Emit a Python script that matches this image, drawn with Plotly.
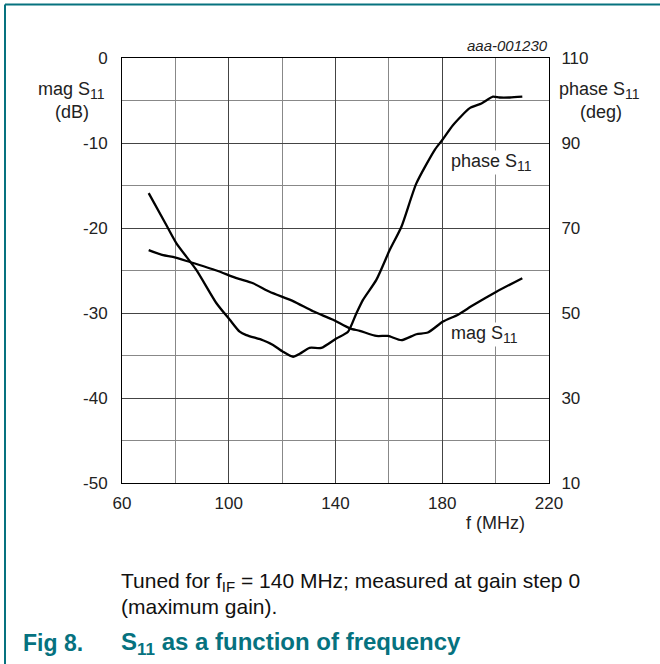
import plotly.graph_objects as go

# ---- data ----
mag_f = [70, 75.4, 79.1, 85.4, 95.4, 102.9, 109.1, 115.3, 124.1, 131.6, 139.1, 145.3,
         149.1, 155.3, 159.7, 164.7, 170.3, 174.6, 180.3, 185.9, 191.5, 200.3, 210]
mag_db = [-22.6, -23.2, -23.4, -24.0, -25.0, -25.9, -26.5, -27.5, -28.6, -29.8, -30.8, -31.8,
          -32.1, -32.7, -32.7, -33.2, -32.5, -32.3, -31.0, -30.2, -29.1, -27.5, -25.9]

phase_f = [70, 76.6, 80.4, 87.9, 95.4, 100.4, 104.1, 106.6, 112.8, 116.6, 120.3, 124.1,
           126.6, 130.3, 134.7, 140.3, 144.7, 147.8, 150.3, 155.3, 160.3, 164.7, 170.3,
           177.2, 180, 184, 190.3, 194.7, 199, 201.5, 205.3, 210]
phase_deg = [78.2, 70.7, 66.4, 60.1, 52.3, 48.4, 45.6, 44.8, 43.6, 42.5, 40.9, 39.7,
             40.4, 41.8, 41.8, 44.0, 45.6, 49.9, 53.1, 57.8, 64.8, 70.3, 80.5,
             88.4, 90.7, 94.2, 98.2, 99.3, 100.9, 100.7, 100.7, 100.9]

x_ticks = [60, 100, 140, 180, 220]
y_ticks = [0, -10, -20, -30, -40, -50]
y2_ticks = [110, 90, 70, 50, 30, 10]

TEAL = "#06727F"
FONT = "Liberation Sans, Arial, sans-serif"

# plot area in pixels
L, R, T, B = 122, 549, 58, 483
W, H = 660, 664


def px(x):
    return (x - L) / (R - L)


def py(y):
    return (B - y) / (B - T)


fig = go.Figure()
fig.add_trace(go.Scatter(x=mag_f, y=mag_db, mode="lines",
                         line=dict(color="black", width=2.3, shape="spline", smoothing=0.6),
                         yaxis="y", showlegend=False, hoverinfo="skip"))
fig.add_trace(go.Scatter(x=phase_f, y=phase_deg, mode="lines",
                         line=dict(color="black", width=2.3, shape="spline", smoothing=0.6),
                         yaxis="y2", showlegend=False, hoverinfo="skip"))

axis_common = dict(showline=True, linecolor="black", linewidth=1,
                   ticks="", zeroline=False,
                   tickfont=dict(family=FONT, size=17, color="#222"))

fig.update_layout(
    width=W, height=H,
    margin=dict(l=L, r=W - R, t=T, b=H - B, pad=0),
    paper_bgcolor="white", plot_bgcolor="white",
    font=dict(family=FONT, color="#222"),
    xaxis=dict(range=[60, 220], tickvals=x_ticks, ticktext=[str(v) for v in x_ticks],
               showgrid=True, gridcolor="#444", gridwidth=1,
               minor=dict(tickvals=[80, 120, 160, 200], showgrid=True, gridcolor="#888", gridwidth=1),
               ticklabelstandoff=5, mirror=True, **axis_common),
    yaxis=dict(range=[-50, 0], tickvals=y_ticks, ticktext=[str(v) for v in y_ticks],
               showgrid=True, gridcolor="#444", gridwidth=1,
               minor=dict(tickvals=[-5, -15, -25, -35, -45], showgrid=True, gridcolor="#888", gridwidth=1),
               ticklabelstandoff=10, mirror=False, **axis_common),
    yaxis2=dict(range=[10, 110], tickvals=y2_ticks, ticktext=[str(v) for v in y2_ticks],
                overlaying="y", side="right", showgrid=False,
                ticklabelstandoff=8, **axis_common),
)

SUB = '<sub><span style="font-size:14px">11</span></sub>'

ann = []
def lab(x, y, text, **kw):
    d = dict(x=px(x), y=py(y), text=text, showarrow=False, xref="paper", yref="paper",
             xanchor="center", yanchor="middle",
             font=dict(size=kw.pop("size", 18), family=FONT, color=kw.pop("color", "#222")))
    d.update(kw)
    ann.append(d)

lab(71, 90, "mag S" + SUB)
lab(72, 112, "(dB)")
lab(599, 90, "phase S" + SUB)
lab(601, 112, "(deg)")
lab(R + 1, 46, "<i>aaa-001230</i>", size=15, xanchor="right")
lab(495, 523, "f (MHz)")
lab(491, 162, "phase S" + SUB, bgcolor="white", borderpad=0)
lab(484, 334, "mag S" + SUB, bgcolor="white", borderpad=0)
lab(119, 582, 'Tuned for f<sub><span style="font-size:15px">IF</span></sub> = 140 MHz; measured at gain step 0',
    size=21, color="#111", xanchor="left")
lab(119, 606, "(maximum gain).", size=21, color="#111", xanchor="left")
lab(21, 643, "<b>Fig 8.</b>", size=23, color=TEAL, xanchor="left")
lab(119, 643, '<b>S<sub><span style="font-size:17px">11</span></sub> as a function of frequency</b>',
    size=24, color=TEAL, xanchor="left")
fig.update_layout(annotations=ann)

fig.add_shape(type="line", xref="paper", yref="paper",
              x0=px(5), y0=py(4.5), x1=px(662), y1=py(4.5),
              line=dict(color=TEAL, width=2))
fig.add_shape(type="line", xref="paper", yref="paper",
              x0=px(5), y0=py(4.5), x1=px(5), y1=py(666),
              line=dict(color=TEAL, width=2))

fig.write_html("out.html", config={"displayModeBar": False},
               post_script="document.body.style.margin='0px';")
